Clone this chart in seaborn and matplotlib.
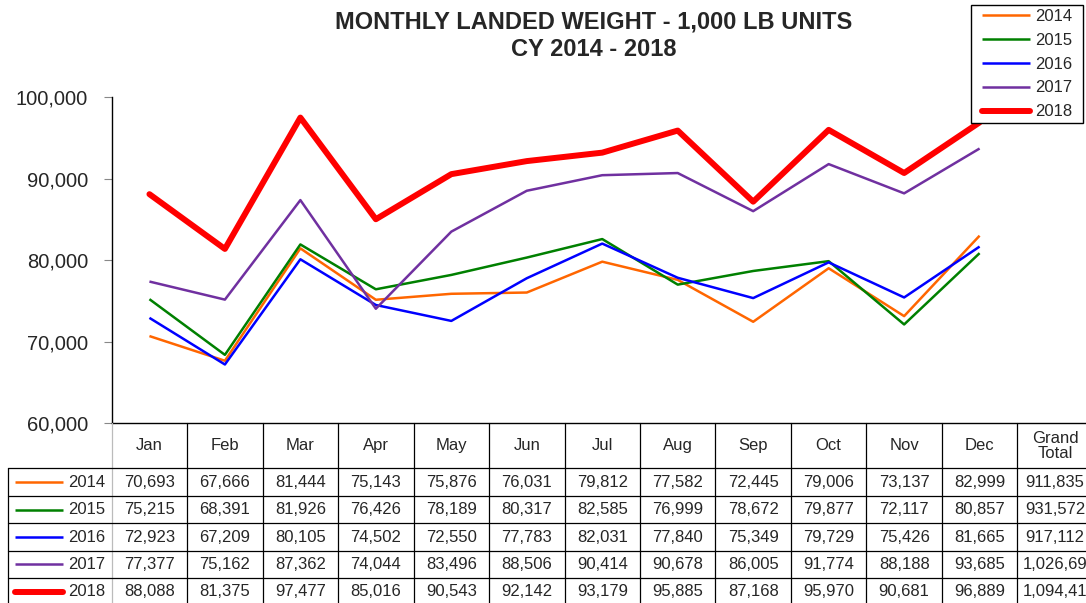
import matplotlib
matplotlib.use("Agg")
import matplotlib.pyplot as plt
import matplotlib.transforms as mtransforms
from matplotlib.lines import Line2D
from matplotlib.patches import Rectangle
import seaborn as sns
import pandas as pd

months = ["Jan", "Feb", "Mar", "Apr", "May", "Jun", "Jul", "Aug", "Sep", "Oct", "Nov", "Dec"]
years = ["2014", "2015", "2016", "2017", "2018"]
v2014 = [70693, 67666, 81444, 75143, 75876, 76031, 79812, 77582, 72445, 79006, 73137, 82999]
v2015 = [75215, 68391, 81926, 76426, 78189, 80317, 82585, 76999, 78672, 79877, 72117, 80857]
v2016 = [72923, 67209, 80105, 74502, 72550, 77783, 82031, 77840, 75349, 79729, 75426, 81665]
v2017 = [77377, 75162, 87362, 74044, 83496, 88506, 90414, 90678, 86005, 91774, 88188, 93685]
v2018 = [88088, 81375, 97477, 85016, 90543, 92142, 93179, 95885, 87168, 95970, 90681, 96889]
grand_totals = ["911,835", "931,572", "917,112", "1,026,69", "1,094,41"]
series = [v2014, v2015, v2016, v2017, v2018]
colors = ["#FF6600", "#008000", "#0000FF", "#7030A0", "#FF0000"]
widths = [1.8, 1.8, 1.8, 1.8, 4.3]

sns.set_style("white")
plt.rcParams["font.family"] = ["Liberation Sans", "DejaVu Sans"]

W, H = 1086, 603
fig = plt.figure(figsize=(W / 100, H / 100), dpi=100)

col_w = 75.47
x_left = 111.7
y_bot_px = 423.3
y_top_px = 97.0
ax = fig.add_axes([x_left / W, 1 - y_bot_px / H, 1 - x_left / W, (y_bot_px - y_top_px) / H])

rows = []
for yr, vals in zip(years, series):
    for i, v in enumerate(vals):
        rows.append({"Year": yr, "idx": i, "Value": v})
df = pd.DataFrame(rows)

for yr, c, lw in zip(years, colors, widths):
    sns.lineplot(data=df[df["Year"] == yr], x="idx", y="Value", color=c, linewidth=lw,
                 ax=ax, label=yr, solid_capstyle="butt" if lw < 3 else "round")

ax.set_xlim(-0.5, -0.5 + (W - x_left) / col_w)
ax.set_ylim(60000, 100000)
yt = [60000, 70000, 80000, 90000, 100000]
ax.set_yticks(yt)
ax.set_yticklabels([f"{t:,}" for t in yt], fontsize=14.5)
ax.set_xticks([])
ax.set_xlabel("")
ax.set_ylabel("")
for s in ["top", "right"]:
    ax.spines[s].set_visible(False)
for s in ["left", "bottom"]:
    ax.spines[s].set_color("black")
    ax.spines[s].set_linewidth(1.0)
ax.tick_params(axis="y", which="both", left=True, length=6, width=0.8, color="#888888", pad=11)

# legend frame + legend
ax.add_patch(Rectangle((971 / W, 1 - 123 / H), 112 / W, 118 / H, transform=fig.transFigure,
                       facecolor="white", edgecolor="black", lw=1.0, zorder=4, clip_on=False))
leg = ax.legend(loc="upper left", bbox_to_anchor=(981.7 / W, 1 - 9 / H), bbox_transform=fig.transFigure,
                fontsize=12, frameon=False, handlelength=2.9, handletextpad=0.3, labelspacing=0.53,
                borderpad=0, borderaxespad=0)
leg.set_zorder(5)

fig.text(594 / W, 1 - 22 / H, "MONTHLY LANDED WEIGHT - 1,000 LB UNITS", ha="center", va="center",
         fontsize=17, fontweight="bold")
fig.text(594 / W, 1 - 50 / H, "CY 2014 - 2018", ha="center", va="center", fontsize=17, fontweight="bold")

# data table beneath the chart, aligned with month columns
trans = mtransforms.blended_transform_factory(ax.transData, fig.transFigure)
row_edges_px = [423.3, 468.3, 496.0, 523.3, 550.7, 578.0, 605.3]
fy = lambda p: 1 - p / H
x_first = -0.5 - (x_left - 8.3) / col_w
ncols = len(months) + 1
for k in range(ncols + 1):
    xe = -0.5 + k
    fig.add_artist(Line2D([xe, xe], [fy(row_edges_px[0]), fy(row_edges_px[-1])], transform=trans,
                          color="black" if k > 0 else "#bbbbbb", lw=0.9))
fig.add_artist(Line2D([x_first, x_first], [fy(row_edges_px[1]), fy(row_edges_px[-1])], transform=trans,
                      color="black", lw=0.9))
for r in range(1, len(row_edges_px)):
    fig.add_artist(Line2D([x_first, -0.5 + ncols], [fy(row_edges_px[r]), fy(row_edges_px[r])],
                          transform=trans, color="black", lw=0.9))

hdr_y = fy((row_edges_px[0] + row_edges_px[1]) / 2)
for i, m in enumerate(months):
    fig.text(i, hdr_y, m, transform=trans, ha="center", va="center", fontsize=12)
fig.text(len(months), hdr_y, "Grand\nTotal", transform=trans, ha="center", va="center",
         fontsize=12, linespacing=0.95)

for r, (yr, vals, c, lw) in enumerate(zip(years, series, colors, widths)):
    yc = fy((row_edges_px[r + 1] + row_edges_px[r + 2]) / 2)
    for i, v in enumerate(vals):
        fig.text(i, yc, f"{v:,}", transform=trans, ha="center", va="center", fontsize=12)
    fig.text(len(months), yc, grand_totals[r], transform=trans, ha="center", va="center", fontsize=12)
    fig.add_artist(Line2D([15 / W, 63 / W], [yc, yc], transform=fig.transFigure, color=c,
                          lw=lw, solid_capstyle="round" if lw > 3 else "butt"))
    fig.text(105 / W, yc, yr, ha="right", va="center", fontsize=12)

fig.savefig("out.png", dpi=100)
